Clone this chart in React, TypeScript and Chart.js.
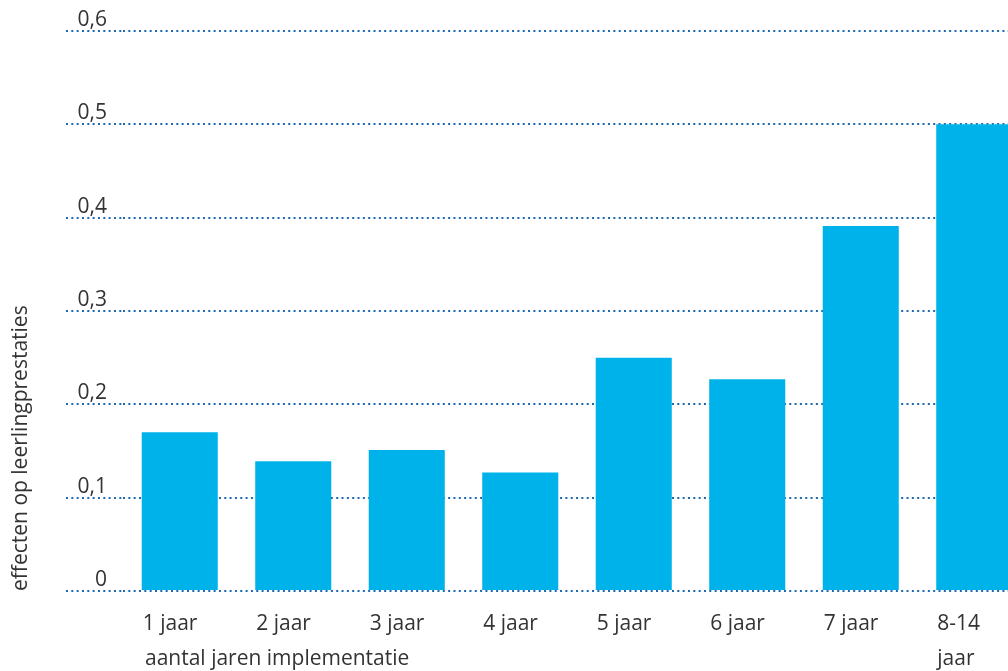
import React, { useEffect, useRef } from "react";
import { Chart, registerables } from "chart.js";

Chart.register(...registerables);

const categories: (string | string[])[] = [
  "1 jaar",
  "2 jaar",
  "3 jaar",
  "4 jaar",
  "5 jaar",
  "6 jaar",
  "7 jaar",
  ["8-14", "jaar"],
];
const effectValues = [0.17, 0.139, 0.151, 0.127, 0.25, 0.227, 0.391, 0.5];
const yTickLabels = ["0", "0,1", "0,2", "0,3", "0,4", "0,5", "0,6"];
const yTitle = "effecten op leerlingprestaties";
const xTitle = "aantal jaren implementatie";

const FONT = "'Open Sans', sans-serif";
const TEXT = "#333333";
const BAR = "#00b2ea";
const GRID = "#1a69b2";

const xTitlePlugin = {
  id: "xTitlePlugin",
  afterDraw(chart: any) {
    const { ctx, chartArea } = chart;
    ctx.save();
    ctx.font = `21px ${FONT}`;
    ctx.fillStyle = TEXT;
    ctx.textAlign = "left";
    ctx.textBaseline = "alphabetic";
    ctx.fillText(xTitle, chartArea.left + 22, chartArea.bottom + 74);
    ctx.restore();
  },
};

export default function App() {
  const ref = useRef<HTMLCanvasElement | null>(null);

  useEffect(() => {
    document.body.style.margin = "0";
    const canvas = ref.current!;
    const chart = new Chart(canvas, {
      type: "bar",
      data: {
        labels: categories,
        datasets: [
          {
            data: effectValues,
            backgroundColor: BAR,
            borderWidth: 0,
            categoryPercentage: 1,
            barPercentage: 0.67,
          },
        ],
      },
      plugins: [xTitlePlugin],
      options: {
        animation: false,
        responsive: false,
        devicePixelRatio: 1,
        layout: { padding: { top: 31, right: 9, left: 0, bottom: 0 } },
        plugins: {
          legend: { display: false },
          tooltip: { enabled: false },
          title: { display: false },
        },
        scales: {
          x: {
            grid: { display: false },
            border: { display: false },
            ticks: {
              color: TEXT,
              font: { family: FONT, size: 21, lineHeight: 1.667 },
              align: "start",
              labelOffset: -37,
              padding: 8,
              maxRotation: 0,
              autoSkip: false,
            },
            afterFit(scale: any) {
              scale.height = 80;
            },
          },
          y: {
            min: 0,
            max: 0.6,
            border: { display: false, dash: [2, 3.33] },
            grid: {
              color: GRID,
              lineWidth: 2,
              drawTicks: true,
              tickLength: 57,
              tickColor: GRID,
              tickWidth: 2,
              tickBorderDash: [2, 3.33],
            } as any,
            ticks: {
              stepSize: 0.1,
              color: TEXT,
              font: { family: FONT, size: 21 },
              padding: -41,
              labelOffset: -11,
              callback: (v: any) => yTickLabels[Math.round(Number(v) * 10)],
            },
            title: {
              display: true,
              text: yTitle,
              align: "start",
              color: TEXT,
              font: { family: FONT, size: 21 },
              padding: { top: 8, bottom: 0 },
            },
            afterFit(scale: any) {
              scale.width = 123;
            },
          } as any,
        },
      },
    } as any);
    return () => chart.destroy();
  }, []);

  return (
    <div
      style={{
        position: "absolute",
        left: 0,
        top: 0,
        width: 1008,
        height: 671,
        overflow: "hidden",
        background: "#ffffff",
      }}
    >
      <canvas ref={ref} width={1040} height={671} style={{ display: "block" }} />
    </div>
  );
}
